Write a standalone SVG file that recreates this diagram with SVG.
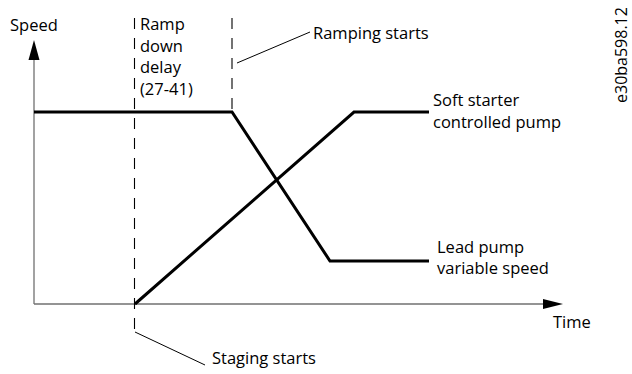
<svg xmlns="http://www.w3.org/2000/svg" width="632" height="374" viewBox="0 0 632 374">
<style>
text{font-family:"Open Sans","Noto Sans","Liberation Sans",sans-serif;font-size:16.5px;fill:#000}
.axis{stroke:#707070;stroke-width:1.3;fill:none}
.dash{stroke:#000;stroke-width:1.1;stroke-dasharray:11 9;fill:none}
.curve{stroke:#000;stroke-width:3;fill:none;stroke-linejoin:miter}
.lead{stroke:#000;stroke-width:1;fill:none}
.code{font-size:16px}
</style>
<rect width="632" height="374" fill="#fff"/>
<g id="axes">
<line class="axis" x1="34" y1="58" x2="34" y2="304"/>
<line class="axis" x1="34" y1="304" x2="545" y2="304"/>
<polygon points="34,40 28.5,60 39.5,60" fill="#000"/>
<polygon points="563,304 543,299 543,309" fill="#000"/>
</g>
<g id="markers">
<line class="dash" x1="134.5" y1="18" x2="134.5" y2="332"/>
<line class="dash" x1="232" y1="18" x2="232" y2="112"/>
</g>
<g id="curves">
<polyline class="curve" points="34,112 232,112 330,261 429,261"/>
<polyline class="curve" points="135,304 354,112 429,112"/>
</g>
<g id="connectors">
<line class="lead" x1="237" y1="63" x2="310" y2="32"/>
<line class="lead" x1="135" y1="332" x2="205" y2="365"/>
</g>
<g id="labels">
<text x="10" y="31">Speed</text>
<text x="140" y="30">Ramp</text>
<text x="140" y="52">down</text>
<text x="140" y="73">delay</text>
<text x="140" y="95">(27-41)</text>
<text x="313" y="39">Ramping starts</text>
<text x="433" y="106">Soft starter</text>
<text x="433" y="128">controlled pump</text>
<text x="437" y="253">Lead pump</text>
<text x="437" y="274">variable speed</text>
<text x="553" y="328">Time</text>
<text x="212" y="364">Staging starts</text>
<text class="code" transform="translate(627,103) rotate(-90)">e30ba598.12</text>
</g>
</svg>
